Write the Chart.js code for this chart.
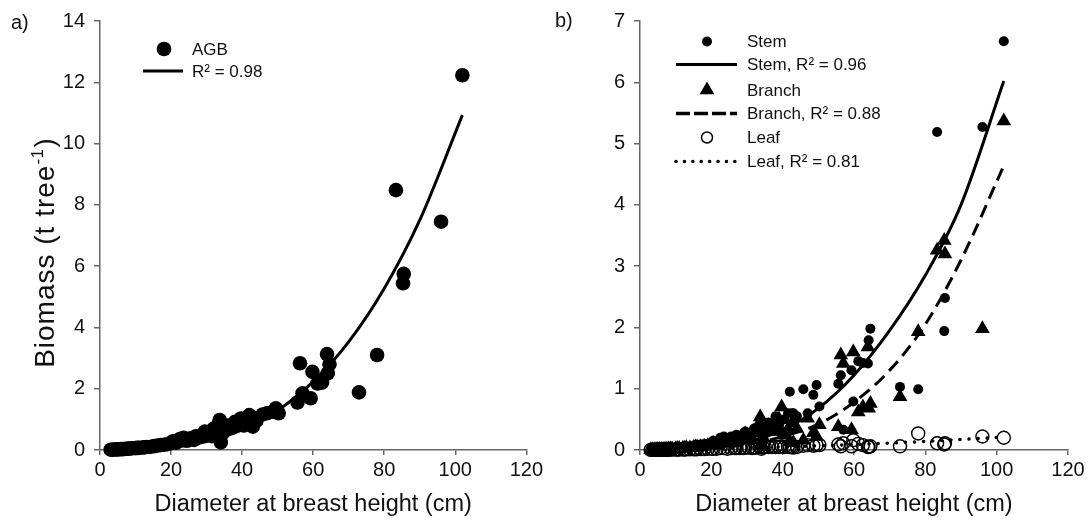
<!DOCTYPE html>
<html><head><meta charset="utf-8">
<script src="https://cdn.jsdelivr.net/npm/chart.js@4.4.1/dist/chart.umd.min.js"></script>
<style>
html,body{margin:0;padding:0;background:#fff;}
#wrap{position:relative;width:1092px;height:531px;overflow:hidden;}
canvas{position:absolute;top:0;}
#ca{left:0;} #cb{left:546px;}
</style></head><body>
<div id="wrap"><canvas id="ca" width="546" height="531"></canvas><canvas id="cb" width="546" height="531"></canvas></div>
<script>
const FONT = "'Liberation Sans', Arial, Helvetica, sans-serif";

// ---- data ----
const dbh = [3.0,3.5,4.0,4.5,5.0,5.5,6.0,6.5,7.0,7.5,8.0,8.5,9.0,
  10.0,10.5,11.0,12.0,12.5,13.0,14.0,15.0,15.5,16.0,17.0,18.0,19.0,20.0,
  20.5,21.5,22.5,23.5,24.5,25.5,26.5,27.0,28.0,29.0,29.5,30.5,31.5,32.0,32.5,33.5,33.7,34.0,34.5,35.0,36.0,37.0,38.0,39.0,39.7,
  40.5,41.5,42.0,42.6,43.0,44.0,45.8,47.0,48.6,49.5,50.3,
  55.6,56.3,57.0,59.3,59.8,61.2,62.5,63.9,64.1,64.6,
  72.9,78.0,83.3,85.3,85.5,96.0,102.0];
const agb = [0.01,0.01,0.015,0.02,0.02,0.025,0.03,0.03,0.035,0.04,0.045,0.05,0.055,
  0.06,0.07,0.07,0.08,0.09,0.1,0.1,0.12,0.13,0.14,0.16,0.17,0.19,0.22,
  0.28,0.24,0.36,0.4,0.3,0.38,0.33,0.45,0.42,0.5,0.6,0.55,0.45,0.7,0.62,0.87,0.98,0.25,0.55,0.72,0.8,0.75,0.92,0.95,1.03,
  0.8,1.0,1.14,1.09,0.76,0.95,1.16,1.2,1.25,1.36,1.2,
  1.55,2.83,1.85,1.69,2.55,2.17,2.2,3.13,2.5,2.8,
  1.88,3.1,8.48,5.44,5.75,7.45,12.23];
const stem = [0.005,0.006,0.008,0.01,0.012,0.014,0.016,0.018,0.02,0.022,0.025,0.028,0.03,
  0.034,0.04,0.04,0.045,0.05,0.055,0.056,0.066,0.07,0.08,0.09,0.095,0.1,0.12,
  0.15,0.13,0.2,0.22,0.17,0.22,0.18,0.25,0.22,0.27,0.3,0.28,0.25,0.35,0.3,0.42,0.38,0.15,0.3,0.36,0.45,0.4,0.55,0.4,0.27,
  0.5,0.6,0.95,0.6,0.6,0.55,0.99,0.6,0.9,1.06,0.71,
  1.08,1.22,0.33,1.3,0.79,1.45,1.42,1.41,1.79,1.98,
  1.03,0.99,5.19,1.94,2.48,5.27,6.67];
const branch = [0.003,0.003,0.005,0.006,0.007,0.008,0.01,0.01,0.012,0.013,0.015,0.017,0.018,
  0.02,0.023,0.024,0.027,0.03,0.035,0.034,0.042,0.047,0.047,0.055,0.06,0.07,0.08,
  0.11,0.09,0.13,0.15,0.11,0.13,0.12,0.17,0.17,0.2,0.26,0.23,0.17,0.31,0.28,0.4,0.54,0.08,0.21,0.31,0.3,0.3,0.32,0.5,0.7,
  0.25,0.34,0.14,0.44,0.12,0.35,0.16,0.52,0.28,0.22,0.41,
  0.38,1.55,1.41,0.33,1.6,0.62,0.7,1.68,0.68,0.76,
  0.87,1.93,3.26,3.42,3.2,1.98,5.37];
const leaf = [0.002,0.002,0.002,0.003,0.003,0.003,0.004,0.004,0.004,0.005,0.005,0.006,0.006,
  0.007,0.007,0.007,0.008,0.009,0.01,0.01,0.012,0.013,0.013,0.015,0.015,0.02,0.02,
  0.02,0.02,0.03,0.03,0.02,0.03,0.03,0.03,0.03,0.03,0.04,0.04,0.03,0.04,0.04,0.05,0.06,0.02,0.04,0.05,0.05,0.05,0.05,0.05,0.06,
  0.05,0.06,0.05,0.05,0.04,0.05,0.07,0.08,0.07,0.08,0.08,
  0.09,0.06,0.11,0.06,0.16,0.1,0.08,0.05,0.05,0.06,
  0.06,0.27,0.11,0.09,0.11,0.22,0.2];

// fitted curves
const fitX = [3,10,20,30,40,50,60,70,80,90,102];
const agbFit = [0.0,0.01,0.08,0.28,0.66,1.29,2.23,3.53,5.27,7.5,10.93];
const stemFit = [0.0,0.01,0.04,0.13,0.33,0.68,1.22,1.95,2.85,4.0,6.02];
const branchFit = [0.0,0.005,0.03,0.09,0.22,0.42,0.78,1.3,2.05,3.1,4.64];
const leafFitX = [3,20,40,60,80,102];
const leafFit = [0.0,0.02,0.05,0.09,0.14,0.21];

const xTicks = [0,20,40,60,80,100,120];
const yTicksA = [0,2,4,6,8,10,12,14];
const yTicksB = [0,1,2,3,4,5,6,7];

const xTitle = 'Diameter at breast height (cm)';
// y title pieces: main text, superscript, closing
const yTitleParts = ['Biomass (t tree', '-1', ')'];

function pts(xs, ys){ return xs.map((x,i)=>({x:x, y:ys[i]})); }

function spacedWidth(ctx, s, sp){
  let w = 0; for (const ch of s) w += ctx.measureText(ch).width + sp; return w;
}
function spacedText(ctx, s, x, y, sp){
  for (const ch of s){ ctx.fillText(ch, x, y); x += ctx.measureText(ch).width + sp; } return x;
}

const decor = {
  id:'decor',
  afterDraw(chart, args, o){
    const ctx = chart.ctx;
    ctx.save();
    ctx.fillStyle = '#111';
    ctx.textBaseline = 'middle'; ctx.textAlign = 'left';
    ctx.font = '20px ' + FONT;
    ctx.fillText(o.label, o.lx, o.ly);
    if (o.ytitle){
      const t = o.ytitle;
      ctx.save();
      ctx.translate(t.x, t.y);
      ctx.rotate(-Math.PI/2);
      ctx.textBaseline = 'alphabetic';
      const sp = t.spacing;
      const sub = Math.round(t.size*0.6);
      ctx.font = t.size + 'px ' + FONT;
      const w1 = spacedWidth(ctx, yTitleParts[0], sp);
      const w3 = spacedWidth(ctx, yTitleParts[2], sp);
      ctx.font = sub + 'px ' + FONT;
      const w2 = spacedWidth(ctx, yTitleParts[1], 0.5);
      let x = -(w1 + w2 + w3)/2;
      const base = t.size*0.36;
      ctx.font = t.size + 'px ' + FONT;
      x = spacedText(ctx, yTitleParts[0], x, base, sp);
      ctx.font = sub + 'px ' + FONT;
      x = spacedText(ctx, yTitleParts[1], x, base - t.size*0.4, 0.5);
      ctx.font = t.size + 'px ' + FONT;
      spacedText(ctx, yTitleParts[2], x + 1, base, sp);
      ctx.restore();
    }
    ctx.font = '17px ' + FONT;
    for (const it of o.items){
      ctx.fillStyle = '#000'; ctx.strokeStyle = '#000';
      if (it.kind === 'point'){
        ctx.beginPath();
        if (it.style === 'triangle'){
          const r = it.r;
          ctx.moveTo(o.mx, it.y - r);
          ctx.lineTo(o.mx + r*0.866, it.y + r*0.5);
          ctx.lineTo(o.mx - r*0.866, it.y + r*0.5);
          ctx.closePath(); ctx.fill();
        } else {
          ctx.arc(o.mx, it.y, it.r, 0, Math.PI*2);
          if (it.open){ ctx.lineWidth = 1.5; ctx.stroke(); } else ctx.fill();
        }
      } else {
        ctx.beginPath();
        ctx.setLineDash(it.dash || []);
        ctx.lineCap = it.cap || 'butt';
        ctx.lineWidth = it.w;
        ctx.moveTo(o.x0, it.y); ctx.lineTo(o.x1, it.y); ctx.stroke();
        ctx.setLineDash([]);
      }
      ctx.fillStyle = '#111';
      ctx.fillText(it.text, o.tx, it.y + 1);
    }
    ctx.restore();
  }
};

function axisX(){
  return {
    type:'linear', min:0, max:120,
    afterBuildTicks: s => { s.ticks = xTicks.map(v=>({value:v})); },
    ticks:{font:{size:20, family:FONT}, color:'#111', padding:3, maxRotation:0},
    grid:{drawOnChartArea:false, drawTicks:true, tickLength:5, color:'#666', lineWidth:1.5},
    border:{display:true, color:'#666', width:1.5},
    title:{display:true, text:xTitle, font:{size:23.5, family:FONT}, color:'#111', padding:{top:0,bottom:12}},
    afterFit: s => { s.height = 81; }
  };
}
function axisY(max, ticks, w){
  return {
    type:'linear', min:0, max:max,
    afterBuildTicks: s => { s.ticks = ticks.map(v=>({value:v})); },
    ticks:{font:{size:20, family:FONT}, color:'#111', padding:9},
    grid:{drawOnChartArea:false, drawTicks:true, tickLength:6, color:'#666', lineWidth:1.5},
    border:{display:true, color:'#666', width:1.5},
    title:{display:false},
    afterFit: s => { s.width = w; }
  };
}

new Chart(document.getElementById('ca'), {
  type:'scatter',
  data:{datasets:[
    {label:'AGB', data:pts(dbh, agb), pointRadius:7.3, pointBackgroundColor:'#000', pointBorderWidth:0, clip:false},
    {label:'R\u00B2 = 0.98', data:pts(fitX, agbFit), showLine:true, borderColor:'#000', borderWidth:3, pointRadius:0, cubicInterpolationMode:'monotone', clip:false}
  ]},
  options:{
    responsive:false, animation:false,
    layout:{padding:{left:0, right:19, top:21, bottom:0}},
    scales:{x:axisX(), y:axisY(14, yTicksA, 100)},
    plugins:{legend:{display:false}, tooltip:{enabled:false},
      decor:{label:'a)', lx:11, ly:23, mx:164, x0:143, x1:183, tx:192,
        ytitle:{x:44, y:253, size:28, spacing:1.0},
        items:[
          {kind:'point', style:'circle', r:7.3, y:49, text:'AGB'},
          {kind:'line', w:3, y:71, text:'R\u00B2 = 0.98'}
        ]}}
  },
  plugins:[decor]
});

new Chart(document.getElementById('cb'), {
  type:'scatter',
  data:{datasets:[
    {label:'Stem', data:pts(dbh, stem), pointRadius:5, pointBackgroundColor:'#000', pointBorderWidth:0, clip:false},
    {label:'Branch', data:pts(dbh, branch), pointStyle:'triangle', pointRadius:8.5, pointBackgroundColor:'#000', pointBorderWidth:0, clip:false},
    {label:'Leaf', data:pts(dbh, leaf), pointRadius:6.5, pointBackgroundColor:'rgba(0,0,0,0)', pointBorderColor:'#000', pointBorderWidth:1.4, clip:false},
    {label:'Stem, R\u00B2 = 0.96', data:pts(fitX, stemFit), showLine:true, borderColor:'#000', borderWidth:3, pointRadius:0, cubicInterpolationMode:'monotone', clip:false},
    {label:'Branch, R\u00B2 = 0.88', data:pts(fitX, branchFit), showLine:true, borderColor:'#000', borderWidth:3, borderDash:[13,7], pointRadius:0, cubicInterpolationMode:'monotone', clip:false},
    {label:'Leaf, R\u00B2 = 0.81', data:pts(leafFitX, leafFit), showLine:true, borderColor:'#000', borderWidth:3.5, borderDash:[0.1,9], borderCapStyle:'round', pointRadius:0, cubicInterpolationMode:'monotone', clip:false}
  ]},
  options:{
    responsive:false, animation:false,
    layout:{padding:{left:0, right:24, top:21, bottom:0}},
    scales:{x:axisX(), y:axisY(7, yTicksB, 94)},
    plugins:{legend:{display:false}, tooltip:{enabled:false},
      decor:{label:'b)', lx:9, ly:21, mx:161, x0:130, x1:191, tx:201,
        items:[
          {kind:'point', style:'circle', r:5, y:41.5, text:'Stem'},
          {kind:'line', w:3, y:64.5, text:'Stem, R\u00B2 = 0.96'},
          {kind:'point', style:'triangle', r:8.5, y:90, text:'Branch'},
          {kind:'line', w:3.5, dash:[14,4], y:113.5, text:'Branch, R\u00B2 = 0.88'},
          {kind:'point', style:'circle', open:true, r:5.5, y:137.5, text:'Leaf'},
          {kind:'line', w:3.5, dash:[0.1,8.3], cap:'round', y:161.5, text:'Leaf, R\u00B2 = 0.81'}
        ]}}
  },
  plugins:[decor]
});
</script>
</body></html>
